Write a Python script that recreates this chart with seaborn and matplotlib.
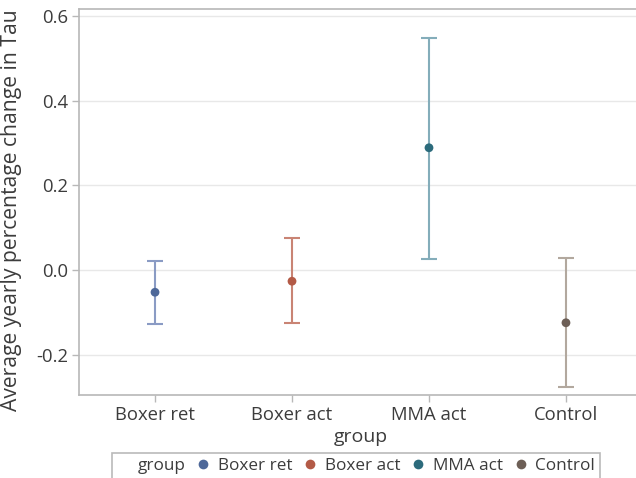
import pandas as pd
import matplotlib.pyplot as plt
from matplotlib.lines import Line2D
import seaborn as sns

groups = ["Boxer ret", "Boxer act", "MMA act", "Control"]
means = [-0.052, -0.026, 0.289, -0.124]
lower = [-0.126, -0.125, 0.026, -0.276]
upper = [0.021, 0.075, 0.549, 0.028]
yticks = [-0.2, 0.0, 0.2, 0.4, 0.6]

point_colors = ["#4e6899", "#b35a46", "#2c6b7c", "#6d5f56"]
bar_colors = ["#8a9bc4", "#c98474", "#84adba", "#b2a89e"]

sns.set_theme(style="white")
plt.rcParams["font.family"] = ["Open Sans", "DejaVu Sans"]

df = pd.DataFrame({"group": groups, "mean": means, "lo": lower, "hi": upper})

fig = plt.figure(figsize=(6.36, 4.78), dpi=100)
ax = fig.add_axes([79 / 636, 83 / 478, 563 / 636, 386 / 478])

for i, row in df.iterrows():
    ax.errorbar(i, row["mean"], yerr=[[row["mean"] - row["lo"]], [row["hi"] - row["mean"]]],
                fmt="none", ecolor=bar_colors[i], elinewidth=1.5, capsize=6, capthick=1.5, zorder=2)

sns.scatterplot(data=df, x="group", y="mean", hue="group", palette=point_colors,
                s=40, edgecolor="none", legend=False, ax=ax, zorder=3)

ax.set_xlim(-0.555, 3.555)
ax.set_ylim(-0.2945, 0.6165)
ax.set_yticks(yticks)
ax.set_yticklabels([f"{t:.1f}" for t in yticks])
ax.set_xticks(range(len(groups)))
ax.set_xticklabels(groups)
for t in yticks:
    ax.axhline(t, color="#e8e8e8", lw=1, zorder=0)

for side in ["left", "bottom", "top"]:
    ax.spines[side].set_color("#b8b8b8")
    ax.spines[side].set_linewidth(1.2)
ax.spines["right"].set_visible(False)
ax.tick_params(axis="both", which="both", length=5, width=1, color="#b8b8b8",
               labelsize=13.3, labelcolor="#3c3c3c", pad=3, left=True, bottom=True)

ax.set_xlabel("group", fontsize=14, color="#3c3c3c", labelpad=3)
ax.set_ylabel("Average yearly percentage change in Tau", fontsize=15.2, color="#3c3c3c")
ax.yaxis.set_label_coords(-0.101, 0.479)

handles = [Line2D([], [], linestyle="none", marker=None)]
labels = ["group"]
for g, c in zip(groups, point_colors):
    handles.append(Line2D([], [], linestyle="none", marker="o", markersize=7,
                          markerfacecolor=c, markeredgecolor="none"))
    labels.append(g)
leg = fig.legend(handles, labels, loc="upper center", bbox_to_anchor=(356 / 636, 25 / 478),
                 ncol=5, frameon=True, fontsize=12.3, handlelength=0.7, handletextpad=0.5,
                 columnspacing=0.7, borderpad=0.3, borderaxespad=0, fancybox=False)
leg.get_frame().set_edgecolor("#a8a8a8")
leg.get_frame().set_linewidth(1.2)
for txt in leg.get_texts():
    txt.set_color("#3c3c3c")

fig.savefig("out.png", dpi=100)
